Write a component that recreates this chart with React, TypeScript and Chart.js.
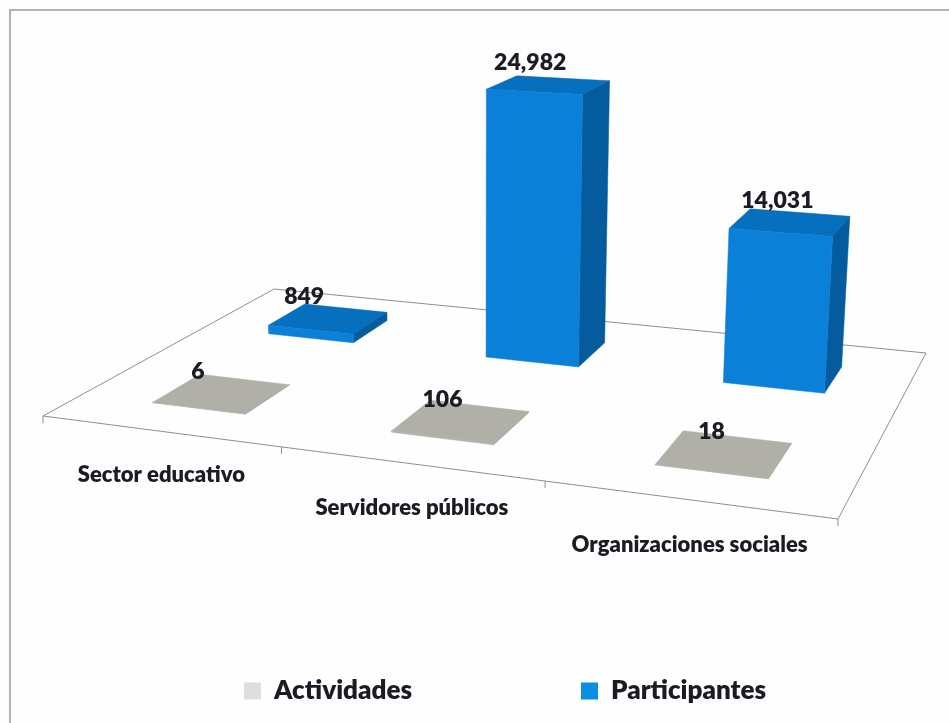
import React, { useEffect, useRef } from "react";
import { Chart, registerables } from "chart.js";

Chart.register(...registerables);

const categories = ["Sector educativo", "Servidores públicos", "Organizaciones sociales"];
const actividades = [6, 106, 18];
const participantes = [849, 24982, 14031];

const FONT = "Lato, 'Open Sans', sans-serif";
const INK = "#1b1b24";

// Floor quad of the 3D plot (front-left, front-right, back-right, back-left)
const A = [43, 416], B = [838, 519], C = [926, 353], D = [274, 289];
const VANISH = [480, 7000];
const RISE = -0.0509;
const BAR_OFFSET = 0.003;
const ROWS: [number, number][] = [[0.145, 0.34], [0.655, 0.84]];
const FACES = [
  { front: "#b0b0a9", top: "#b0b0a9", side: "#a4a49e" },
  { front: "#0a80d8", top: "#066fbe", side: "#045c9f" },
];

function makeProjector() {
  const dx1 = B[0] - C[0], dx2 = D[0] - C[0], sx = A[0] - B[0] + C[0] - D[0];
  const dy1 = B[1] - C[1], dy2 = D[1] - C[1], sy = A[1] - B[1] + C[1] - D[1];
  const det = dx1 * dy2 - dx2 * dy1;
  const g = (sx * dy2 - dx2 * sy) / det;
  const h = (dx1 * sy - sx * dy1) / det;
  const a = B[0] - A[0] + g * B[0], b = D[0] - A[0] + h * D[0];
  const d = B[1] - A[1] + g * B[1], e = D[1] - A[1] + h * D[1];
  return (s: number, t: number, f = 0): [number, number] => {
    const m = RISE * f;
    const w = 1 + g * s + h * t + m;
    return [
      (a * s + b * t + A[0] + m * VANISH[0]) / w,
      (d * s + e * t + A[1] + m * VANISH[1]) / w,
    ];
  };
}

const project = makeProjector();

function poly(ctx: CanvasRenderingContext2D, pts: [number, number][], color: string) {
  ctx.beginPath();
  pts.forEach((p, i) => (i ? ctx.lineTo(p[0], p[1]) : ctx.moveTo(p[0], p[1])));
  ctx.closePath();
  ctx.fillStyle = color;
  ctx.fill();
  ctx.strokeStyle = color;
  ctx.lineWidth = 0.5;
  ctx.stroke();
}

function seg(ctx: CanvasRenderingContext2D, p: [number, number], q: [number, number]) {
  ctx.beginPath();
  ctx.moveTo(p[0], p[1]);
  ctx.lineTo(q[0], q[1]);
  ctx.stroke();
}

const scene = {
  id: "scene",
  beforeDraw(chart: any) {
    const ctx = chart.ctx as CanvasRenderingContext2D;
    ctx.save();
    ctx.fillStyle = "#fefefe";
    ctx.fillRect(0, 0, chart.width, chart.height);
    ctx.strokeStyle = "#b4b4b4";
    ctx.lineWidth = 2;
    ctx.beginPath();
    ctx.moveTo(10, chart.height);
    ctx.lineTo(10, 10);
    ctx.lineTo(chart.width, 10);
    ctx.stroke();
    ctx.restore();
  },
  beforeDatasetsDraw(chart: any) {
    const ctx = chart.ctx as CanvasRenderingContext2D;
    const xs = chart.scales.x, ys = chart.scales.y;
    const n = xs.getLabels().length;
    ctx.save();

    // floor
    ctx.strokeStyle = "#8f8f8f";
    ctx.lineWidth = 1;
    ctx.beginPath();
    [[0, 0], [1, 0], [1, 1], [0, 1]].forEach(([s, t], i) => {
      const p = project(s, t);
      i ? ctx.lineTo(p[0], p[1]) : ctx.moveTo(p[0], p[1]);
    });
    ctx.closePath();
    ctx.stroke();
    for (let i = 0; i <= n; i++) {
      const p = project(i / n, 0);
      seg(ctx, p, [p[0], p[1] + 7]);
    }

    // bars, back row first
    const labels: { text: string; x: number; y: number }[] = [];
    for (let di = chart.data.datasets.length - 1; di >= 0; di--) {
      const meta = chart.getDatasetMeta(di);
      const [t0, t1] = ROWS[di];
      const face = FACES[di];
      meta.data.forEach((el: any, i: number) => {
        const c = (el.x - xs.left) / xs.width + BAR_OFFSET;
        const half = el.width / 2 / xs.width;
        const s0 = c - half, s1 = c + half;
        const f = (ys.getPixelForValue(0) - el.y) / ys.height;
        const p = (s: number, t: number, z: number) => project(s, t, z);
        poly(ctx, [p(s0, t0, f), p(s0, t1, f), p(s1, t1, f), p(s1, t0, f)], face.top);
        poly(ctx, [p(s1, t0, 0), p(s1, t1, 0), p(s1, t1, f), p(s1, t0, f)], face.side);
        poly(ctx, [p(s0, t0, 0), p(s1, t0, 0), p(s1, t0, f), p(s0, t0, f)], face.front);
        const mid = p(c, (t0 + t1) / 2, f);
        labels.push({
          text: Number(chart.data.datasets[di].data[i]).toLocaleString("en-US"),
          x: mid[0] - 27 + 17 * c,
          y: mid[1] - 22,
        });
      });
    }

    // value labels
    ctx.fillStyle = INK;
    ctx.textAlign = "center";
    ctx.textBaseline = "middle";
    ctx.font = `800 23px ${FONT}`;
    labels.forEach((l) => ctx.fillText(l.text, l.x, l.y));

    // category labels
    ctx.font = `800 22px ${FONT}`;
    for (let i = 0; i < n; i++) {
      const c = (xs.getPixelForValue(i) - xs.left) / xs.width;
      const p = project(c, 0);
      ctx.fillText(xs.getLabelForValue(i), p[0] + 2, p[1] + 43 + 3 * c);
    }
    ctx.restore();
    return false;
  },
};

export default function App() {
  const ref = useRef<HTMLCanvasElement>(null);
  useEffect(() => {
    const chart = new Chart(ref.current!, {
      type: "bar",
      data: {
        labels: categories,
        datasets: [
          { label: "Actividades", data: actividades, backgroundColor: "#dedede", grouped: false, categoryPercentage: 1, barPercentage: 0.4 },
          { label: "Participantes", data: participantes, backgroundColor: "#0a8fe2", grouped: false, categoryPercentage: 1, barPercentage: 0.4 },
        ],
      } as any,
      options: {
        responsive: false,
        animation: false,
        layout: { padding: { left: 61, bottom: 9 } },
        scales: {
          x: { display: false },
          y: { display: false, min: 0, max: 30000 },
        },
        plugins: {
          tooltip: { enabled: false },
          title: { display: false },
          legend: {
            position: "bottom",
            labels: {
              boxWidth: 17,
              boxHeight: 17,
              padding: 169,
              color: INK,
              font: { family: FONT, size: 26, weight: "800" },
            },
          },
        },
      } as any,
      plugins: [scene],
    });
    return () => chart.destroy();
  }, []);
  return (
    <div style={{ position: "absolute", left: 0, top: 0, width: 949, height: 723 }}>
      <canvas ref={ref} width={949} height={723} style={{ display: "block", filter: "blur(0.6px)" }} />
    </div>
  );
}
